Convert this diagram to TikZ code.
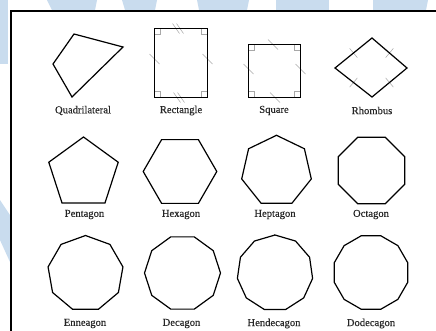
\documentclass[tikz,border=0pt]{standalone}
\usepackage{fontspec}
\setmainfont[FakeBold=0.35]{Liberation Serif}
\usetikzlibrary{calc}
\definecolor{wm}{HTML}{C9DCEE}
\definecolor{tickgray}{HTML}{A8A8A8}
\tikzset{
  shp/.style={draw=black, line width=1.2pt, line join=miter},
  tick/.style={draw=tickgray, line width=0.5pt},
  ra/.style={draw=tickgray, line width=0.5pt},
  lbl/.style={font=\fontsize{10.6}{12}\selectfont, text=black!85, inner sep=0pt, anchor=center},
  frame/.style={draw=black, line width=1.6pt}
}
\begin{document}
\begin{tikzpicture}[x=1pt,y=-1pt]
\useasboundingbox (0,0) rectangle (436,330);
\fill[white] (0,0) rectangle (436,330);
% watermark fragments outside the frame
\fill[wm] (0,0) rectangle (8,64);
\fill[wm] (0,200) -- (10,215) -- (10,262) -- (0,240) -- cycle;
\fill[wm] (47,0) -- (97,0) -- (95,10) -- (52,10) -- cycle;
\fill[wm] (122,0) -- (157,0) -- (155,10) -- (125,10) -- cycle;
\fill[wm] (197,0) -- (249,0) -- (247,10) -- (199,10) -- cycle;
\fill[wm] (276,0) -- (329,0) -- (329,10) -- (276,10) -- cycle;
\fill[wm] (373,0) -- (428,0) -- (426,10) -- (373,10) -- cycle;
% frame
\fill[white] (11,11) rectangle (436,330);
\coordinate (ftl) at (11,11);
\coordinate (ftr) at (437,11);
\coordinate (fbl) at (11,331);
\draw[frame] (ftr) -- (ftl) -- (fbl);

% ---------- Row 1 ----------
% Quadrilateral
\coordinate (q1) at (74,34);
\coordinate (q2) at (123,47);
\coordinate (q3) at (72,97);
\coordinate (q4) at (53,64);
\draw[shp] (q1) -- (q2) -- (q3) -- (q4) -- cycle;
\node[lbl] (lquad) at (83,110.5) {Quadrilateral};

% Rectangle
\coordinate (r1) at (154.5,28.5);
\coordinate (r2) at (207.5,97.5);
\foreach \p/\sx/\sy in {(154.5,28.5)/1/1,(207.5,28.5)/-1/1,(154.5,97.5)/1/-1,(207.5,97.5)/-1/-1}
  \draw[ra] \p ++(6*\sx,0) -- ++(0,6*\sy) -- ++(-6*\sx,0);
\foreach \c in {(176,28.5),(180,28.5),(177,97.5),(181,97.5)}
  \draw[tick] \c ++(-3.5,-5) -- ++(7,10);
\foreach \c in {(154.5,59),(207.5,59)}
  \draw[tick] \c ++(-5,-5) -- ++(10,10);
\draw[shp] (r1) rectangle (r2);
\node[lbl] (lrect) at (181,110.5) {Rectangle};

% Square
\coordinate (s1) at (248.5,44.5);
\coordinate (s2) at (300.5,97.5);
\foreach \p/\sx/\sy in {(248.5,44.5)/1/1,(300.5,44.5)/-1/1,(248.5,97.5)/1/-1,(300.5,97.5)/-1/-1}
  \draw[ra] \p ++(6*\sx,0) -- ++(0,6*\sy) -- ++(-6*\sx,0);
\foreach \c in {(273,44.5),(248.5,69),(300.5,69),(275,97.5)}
  \draw[tick] \c ++(-5,-5) -- ++(10,10);
\draw[shp] (s1) rectangle (s2);
\node[lbl] (lsq) at (274,110.5) {Square};

% Rhombus
\coordinate (h1) at (372,38);
\coordinate (h2) at (407,68);
\coordinate (h3) at (372,97);
\coordinate (h4) at (335,68);
\foreach \c/\a in {(353.5,53)/50,(389.5,53)/130,(353.5,82.5)/130,(389.5,82.5)/50}
  \draw[tick] \c ++(\a:-6) -- ++(\a:12);
\draw[shp] (h1) -- (h2) -- (h3) -- (h4) -- cycle;
\node[lbl] (lrh) at (372,110.5) {Rhombus};

% ---------- regular polygons ----------
% args: center x, center y, R, start angle, sides
\foreach \cx/\cy/\R/\st/\n in {
   83.5/173.5/36.5/270/5,
   180/171.5/36.8/0/6,
   276.5/171/35.7/270/7,
   371.5/170.5/36/22.5/8,
   85.5/273.5/38/270/9,
   182.5/273/38/0/10,
   275/273/38/270/11,
   371/272.5/38/15/12}
{
  \pgfmathsetmacro{\stp}{360/\n}
  \draw[shp] (\cx,\cy) ++(\st:\R)
    \foreach \k in {1,...,\n}{ -- ($(\cx,\cy)+(\st+\k*\stp:\R)$) } -- cycle;
}
\node[lbl] (lpent) at (84.5,214.5) {Pentagon};
\node[lbl] (lhex) at (181,214.5) {Hexagon};
\node[lbl] (lhept) at (275,214.5) {Heptagon};
\node[lbl] (loct) at (371,214.5) {Octagon};
\node[lbl] (lenn) at (85,323.5) {Enneagon};
\node[lbl] (ldec) at (181.5,323.5) {Decagon};
\node[lbl] (lhend) at (274,323.5) {Hendecagon};
\node[lbl] (ldod) at (371,323.5) {Dodecagon};
\end{tikzpicture}
\end{document}
